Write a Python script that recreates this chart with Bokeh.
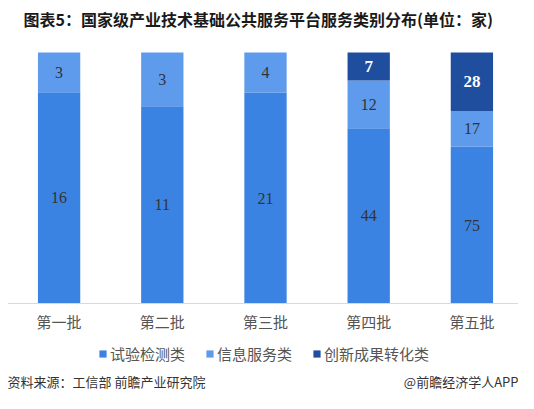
from bokeh.plotting import figure
from bokeh.models import (ColumnDataSource, Range1d, Label, Legend, LegendItem, LabelSet,
                          FixedTicker)
from bokeh.embed import file_html
from bokeh.resources import INLINE

# ---- data ----
categories = ["第一批", "第二批", "第三批", "第四批", "第五批"]
series_names = ["试验检测类", "信息服务类", "创新成果转化类"]
testing = [16, 11, 21, 44, 75]
info = [3, 3, 4, 12, 17]
innovation = [0, 0, 0, 7, 28]
title_text = "图表5：国家级产业技术基础公共服务平台服务类别分布(单位：家)"
source_text = "资料来源：工信部 前瞻产业研究院"
credit_text = "@前瞻经济学人APP"

colors = ["#3b83e3", "#5e9bed", "#1f4e9f"]

totals = [a + b + c for a, b, c in zip(testing, info, innovation)]
pct_t = [v / s * 100 for v, s in zip(testing, totals)]
pct_i = [v / s * 100 for v, s in zip(info, totals)]
pct_n = [v / s * 100 for v, s in zip(innovation, totals)]
xs = list(range(len(categories)))
src = ColumnDataSource(dict(x=xs, t=pct_t, i=pct_i, n=pct_n))

# ---- layout (pixels) ----
W, H = 518, 393
LEFT = 7
FRAME_W = W - LEFT
STEP = 103.2                      # pixels per category
BAR_TOP_PX, BASE_PX = 52, 303     # rows of 100% and 0%
ppu = (BASE_PX - BAR_TOP_PX) / 100.0
y_top = 100 + BAR_TOP_PX / ppu
y_bot = -(H - BASE_PX) / ppu
x_start = -0.5
x_end = x_start + FRAME_W / STEP

p = figure(width=W, height=H, x_range=Range1d(x_start, x_end), y_range=Range1d(y_bot, y_top),
           output_backend="svg", toolbar_location=None,
           min_border_left=LEFT, min_border_right=0, min_border_top=0, min_border_bottom=0)
p.outline_line_color = None
p.xgrid.grid_line_color = None
p.ygrid.grid_line_color = None
p.yaxis.visible = False
p.background_fill_color = "white"
p.border_fill_color = "white"

rs = p.vbar_stack(["t", "i", "n"], x="x", width=0.41, color=colors, line_color=None, source=src)

ax = p.xaxis[0]
ax.fixed_location = 0
ax.ticker = FixedTicker(ticks=xs)
ax.major_label_overrides = {i: c for i, c in zip(xs, categories)}
ax.axis_line_color = "#d9d9d9"
ax.major_tick_line_color = None
ax.minor_tick_line_color = None
ax.major_label_text_font = "Noto Sans CJK SC"
ax.major_label_text_font_size = "15px"
ax.major_label_text_color = "#555555"
ax.major_label_standoff = 1

# value labels at segment centres
dark = dict(x=[], y=[], text=[])
light = dict(x=[], y=[], text=[])
for k in xs:
    base = 0.0
    for vals, ps, tgt in ((testing, pct_t, dark), (info, pct_i, dark), (innovation, pct_n, light)):
        if vals[k] > 0:
            tgt["x"].append(k)
            tgt["y"].append(base + ps[k] / 2)
            tgt["text"].append(str(vals[k]))
        base += ps[k]
p.add_layout(LabelSet(x="x", y="y", text="text", source=ColumnDataSource(dark),
                      text_color="#333333", text_font="Liberation Serif", text_font_size="16px",
                      text_align="center", text_baseline="middle"))
p.add_layout(LabelSet(x="x", y="y", text="text", source=ColumnDataSource(light),
                      text_color="#ffffff", text_font="Liberation Serif", text_font_size="17px",
                      text_font_style="bold", text_align="center", text_baseline="middle"))

legend = Legend(items=[LegendItem(label=n, renderers=[r]) for n, r in zip(series_names, rs)],
                orientation="horizontal", location=(91, 29),
                glyph_width=9, glyph_height=9, label_standoff=3, spacing=20,
                padding=0, margin=0, border_line_color=None, background_fill_alpha=0,
                label_text_font="Noto Sans CJK SC", label_text_font_size="15px",
                label_text_color="#555555", label_height=16)
p.add_layout(legend, "center")

p.add_layout(Label(x=16, y=H - 18, x_units="screen", y_units="screen", text=title_text,
                   text_font="Noto Sans CJK SC", text_font_size="16px", text_font_style="bold",
                   text_color="#1a1a1a", text_baseline="middle"))
p.add_layout(Label(x=0, y=12, x_units="screen", y_units="screen", text=source_text,
                   text_font="Noto Sans CJK SC", text_font_size="13px",
                   text_color="#333333", text_baseline="middle"))
p.add_layout(Label(x=FRAME_W, y=12, x_units="screen", y_units="screen", text=credit_text,
                   text_font="Noto Sans CJK SC", text_font_size="13px", text_align="right",
                   text_color="#333333", text_baseline="middle"))

open("out.html", "w").write(file_html(p, INLINE))
